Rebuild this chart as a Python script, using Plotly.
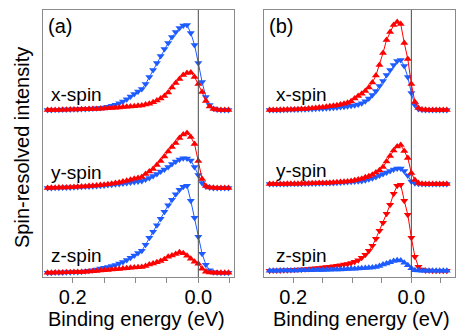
import plotly.graph_objects as go

# ---------------- data ----------------
energy = [0.240, 0.234, 0.228, 0.222, 0.216, 0.210, 0.204, 0.198, 0.192, 0.186,
          0.180, 0.174, 0.168, 0.162, 0.156, 0.150, 0.144, 0.138, 0.132, 0.126,
          0.120, 0.114, 0.108, 0.102, 0.096, 0.090, 0.084, 0.078, 0.072, 0.066,
          0.060, 0.054, 0.048, 0.042, 0.036, 0.030, 0.024, 0.018, 0.012, 0.006,
          0.000, -0.006, -0.012, -0.018, -0.024, -0.030, -0.036, -0.042, -0.048, -0.054,
          -0.060]

# panel (a): 49 points (0.240 ... -0.048)
a_x_blue = [0, 0, 0.2, 0.3, 0.4, 0.5, 0.6, 0.7, 0.8, 0.9,
            1.0, 1.2, 1.4, 1.7, 2.0, 2.6, 3.3, 4.2, 5.3, 6.8,
            8.5, 10.8, 13.5, 16, 18.5, 21, 26, 33, 40, 47,
            54, 61, 67, 73, 78, 82, 84.5, 85, 77, 65,
            47, 28, 13, 5, 1.5, 0.5, 0, 0, 0]
a_x_red = [0, 0, 0, 0.1, 0.2, 0.3, 0.4, 0.5, 0.6, 0.7,
           0.8, 0.9, 1.0, 1.1, 1.3, 1.5, 1.7, 2.0, 2.3, 2.6,
           2.9, 3.2, 3.5, 3.8, 4.2, 4.6, 5.5, 6.3, 7.7, 9.5,
           11.5, 14, 17.5, 22.5, 27, 31, 35, 37, 37.5, 33,
           26, 18, 9, 3.5, 1, 0.3, 0, 0, 0]
a_y_red = [0, 0.2, 0.3, 0.4, 0.5, 0.6, 0.8, 1.0, 1.2, 1.4,
           1.6, 1.9, 2.2, 2.5, 2.9, 3.3, 3.8, 4.3, 4.9, 5.6,
           6.4, 7.3, 8.2, 9.2, 10.1, 11, 14, 16.5, 19, 23,
           27, 31.5, 36.5, 41, 45, 50, 53.5, 55, 51, 44,
           27, 9, 2, 0.5, 0.2, 0, 0, 0, 0]
a_y_blue = [0, 0.1, 0.2, 0.3, 0.4, 0.5, 0.6, 0.8, 1.0, 1.2,
            1.4, 1.6, 1.8, 2.0, 2.3, 2.6, 2.9, 3.3, 3.7, 4.1,
            4.6, 5.1, 5.6, 6.1, 6.6, 7, 8.5, 10, 12, 14,
            16.5, 18.5, 21, 24, 26.5, 28.5, 29.7, 29.5, 27.5, 21,
            13, 5, 1.5, 0.4, 0.1, 0, 0, 0, 0]
a_z_blue = [0, 0, 0.1, 0.2, 0.3, 0.4, 0.5, 0.6, 0.8, 1.0,
            1.5, 1.9, 2.5, 3.3, 4.2, 5.0, 5.8, 6.7, 7.8, 9.2,
            10.8, 12.8, 15, 17.3, 19.8, 22, 28, 35, 41, 47.5,
            54, 61, 67.5, 73, 78.5, 83, 86, 87, 72, 55,
            36, 19, 8, 2.5, 0.5, 0.2, 0, 0, 0]
a_z_red = [0, 0, 0.1, 0.2, 0.3, 0.4, 0.5, 0.6, 0.7, 0.8,
           0.9, 1.1, 1.4, 1.8, 2.2, 2.5, 2.8, 3.1, 3.4, 3.8,
           4.1, 4.5, 4.9, 5.2, 5.5, 5.8, 6.7, 8.2, 9.3, 10.4,
           11.8, 13.5, 16, 17.3, 18.8, 20.4, 19.5, 17, 14, 11,
           9, 4, 1, 0.3, 0, 0, 0, 0, 0]

# panel (b): 51 points (0.240 ... -0.060)
b_x_red = [0, 0, 0.1, 0.2, 0.3, 0.4, 0.5, 0.6, 0.7, 0.9,
           1.1, 1.4, 1.7, 2.0, 2.4, 2.8, 3.2, 3.7, 4.2, 4.8,
           5.5, 6.3, 7.3, 8.7, 11.5, 14, 16.3, 19, 22.5, 27.5,
           34.5, 45, 57, 70, 78, 85, 88, 86, 67, 51,
           26, 8, 2, 0.5, 0.2, 0.1, 0, 0, 0, 0, 0]
b_x_blue = [0, 0, 0, 0.1, 0.2, 0.3, 0.4, 0.5, 0.6, 0.7,
            0.8, 0.9, 1.0, 1.2, 1.4, 1.6, 1.8, 2.0, 2.3, 2.6,
            2.9, 3.3, 3.7, 4.2, 4.8, 5.5, 6.7, 8.8, 11.5, 15,
            19, 24, 29, 35, 40, 45, 49, 50, 44, 33,
            17, 5, 1, 0.3, 0, 0, 0, 0, 0, 0, 0]
b_y_red = [0, 0, 0, 0.1, 0.1, 0.2, 0.2, 0.3, 0.3, 0.4,
           0.5, 0.6, 0.7, 0.8, 0.9, 1.0, 1.1, 1.3, 1.5, 1.7,
           1.9, 2.2, 2.6, 3.1, 3.7, 4.4, 5.3, 6.7, 7.8, 9.3,
           11.5, 13.8, 17, 22.5, 28, 33.5, 37.5, 39, 33, 26,
           11, 4, 1, 0.3, 0, 0, 0, 0, 0, 0, 0]
b_y_blue = [0, 0, 0, 0, 0.1, 0.1, 0.2, 0.2, 0.3, 0.3,
            0.4, 0.4, 0.5, 0.6, 0.7, 0.8, 0.9, 1.0, 1.1, 1.3,
            1.5, 1.7, 1.9, 2.2, 2.5, 2.8, 3.1, 3.8, 4.7, 5.8,
            7, 8.4, 10, 11.5, 13, 14.4, 15.5, 15.5, 13, 8.5,
            2.5, 0.7, 0.2, 0, 0, 0, 0, 0, 0, 0, 0]
b_z_red = [0, 0.1, 0.2, 0.3, 0.4, 0.5, 0.7, 0.9, 1.1, 1.3,
           1.5, 1.8, 2.1, 2.4, 2.8, 3.2, 3.6, 4.0, 4.5, 5.0,
           5.5, 6.1, 6.8, 7.8, 9, 10.5, 13, 16, 20, 25,
           32, 40, 48, 57, 66, 77, 85, 86, 70, 56,
           33, 14, 4, 1.2, 0.3, 0.1, 0, 0, 0, 0, 0]
b_z_blue = [0, 0, 0, 0.1, 0.1, 0.2, 0.2, 0.3, 0.3, 0.4,
            0.4, 0.5, 0.5, 0.6, 0.7, 0.8, 0.9, 1.0, 1.1, 1.2,
            1.3, 1.5, 1.7, 1.9, 2.0, 2.2, 2.4, 2.6, 2.9, 3.3,
            3.8, 4.6, 6.2, 7.3, 8.4, 9.6, 10.5, 10.2, 8, 5.5,
            2.5, 0.5, 0.1, 0, 0, 0, 0, 0, 0, 0, 0]

spin_labels = ["x-spin", "y-spin", "z-spin"]
offsets_a = [167, 89, 4.3]
offsets_b = [167, 93, 6.3]
tick_vals = [0.2, 0.15, 0.1, 0.05, 0.0, -0.05]
tick_text = ["0.2", "", "", "", "0.0", ""]
x_range_a = [0.2473, -0.0568]
x_range_b = [0.2495, -0.0739]

# ---------------- style ----------------
W, H = 456, 331
RED = "#ff0000"
BLUE = "#1f5cff"
FONT = "Liberation Sans, Arial, sans-serif"
FRAME = "#8a8a8a"

def pxx(x):
    return x / W

def pyy(y):
    return 1 - y / H

fig = go.Figure()

# (values, color, symbol) drawn in order: down-triangles first, up-triangles on top
panel_a = [
    [(a_x_blue, BLUE, "triangle-down"), (a_x_red, RED, "triangle-up")],
    [(a_y_blue, BLUE, "triangle-down"), (a_y_red, RED, "triangle-up")],
    [(a_z_blue, BLUE, "triangle-down"), (a_z_red, RED, "triangle-up")],
]
panel_b = [
    [(b_x_blue, BLUE, "triangle-down"), (b_x_red, RED, "triangle-up")],
    [(b_y_blue, BLUE, "triangle-down"), (b_y_red, RED, "triangle-up")],
    [(b_z_red, RED, "triangle-down"), (b_z_blue, BLUE, "triangle-up")],
]

for panel, offsets, xa, ya in [(panel_a, offsets_a, "x", "y"), (panel_b, offsets_b, "x2", "y2")]:
    for comp, off in zip(panel, offsets):
        for vals, col, sym in comp:
            n = len(vals)
            fig.add_trace(go.Scatter(
                x=energy[:n], y=[v + off for v in vals],
                mode="lines+markers",
                line=dict(color=col, width=1),
                marker=dict(symbol=sym, size=7, color=col, line=dict(width=0)),
                xaxis=xa, yaxis=ya, showlegend=False, hoverinfo="skip"))

xcommon = dict(showline=True, mirror=True, linecolor=FRAME, linewidth=1,
               ticks="outside", ticklen=5, tickcolor=FRAME,
               tickvals=tick_vals, ticktext=tick_text, ticklabelstandoff=-3,
               tickfont=dict(size=20, color="black", family=FONT),
               showgrid=False, zeroline=False)
ycommon = dict(showline=True, mirror=True, linecolor=FRAME, linewidth=1,
               ticks="", showticklabels=False, showgrid=False, zeroline=False,
               range=[0, 267], domain=[pyy(277), pyy(10)])

fig.update_layout(
    width=W, height=H,
    margin=dict(l=0, r=0, t=0, b=0),
    paper_bgcolor="white", plot_bgcolor="white",
    font=dict(family=FONT, color="black"),
    xaxis=dict(range=x_range_a, domain=[pxx(43), pxx(234)], anchor="y", **xcommon),
    yaxis=dict(anchor="x", **ycommon),
    xaxis2=dict(range=x_range_b, domain=[pxx(264), pxx(455)], anchor="y2", **xcommon),
    yaxis2=dict(anchor="x2", **ycommon),
)

for xr, yr in [("x", "y domain"), ("x2", "y2 domain")]:
    fig.add_shape(type="line", xref=xr, yref=yr, x0=0, x1=0, y0=0, y1=1,
                  line=dict(color="#4a4a4a", width=1))

ann = []
# panel letters
ann.append(dict(text="(a)", x=pxx(46), y=pyy(26), xanchor="left", yanchor="middle", font_size=20))
ann.append(dict(text="(b)", x=pxx(266.5), y=pyy(26), xanchor="left", yanchor="middle", font_size=20))
# spin labels
for lab, yb in zip(spin_labels, [94, 172, 255.7]):
    ann.append(dict(text=lab, x=pxx(49), y=pyy(yb), xanchor="left", yanchor="middle", font_size=19))
for lab, yb in zip(spin_labels, [94, 170.7, 255.7]):
    ann.append(dict(text=lab, x=pxx(273.7), y=pyy(yb), xanchor="left", yanchor="middle", font_size=19))
# axis titles
ann.append(dict(text="Binding energy (eV)", x=pxx(136), y=pyy(319), xanchor="center", yanchor="middle", font_size=20))
ann.append(dict(text="Binding energy (eV)", x=pxx(361), y=pyy(319), xanchor="center", yanchor="middle", font_size=20))
ann.append(dict(text="Spin-resolved intensity", x=pxx(22), y=pyy(148), xanchor="center", yanchor="middle",
                textangle=-90, font_size=20))

for a in ann:
    fs = a.pop("font_size")
    fig.add_annotation(xref="paper", yref="paper", showarrow=False,
                       font=dict(size=fs, color="black", family=FONT), **a)

fig.write_html("out.html", config={"displayModeBar": False},
               post_script="document.body.style.margin='0';document.body.style.overflow='hidden';")
